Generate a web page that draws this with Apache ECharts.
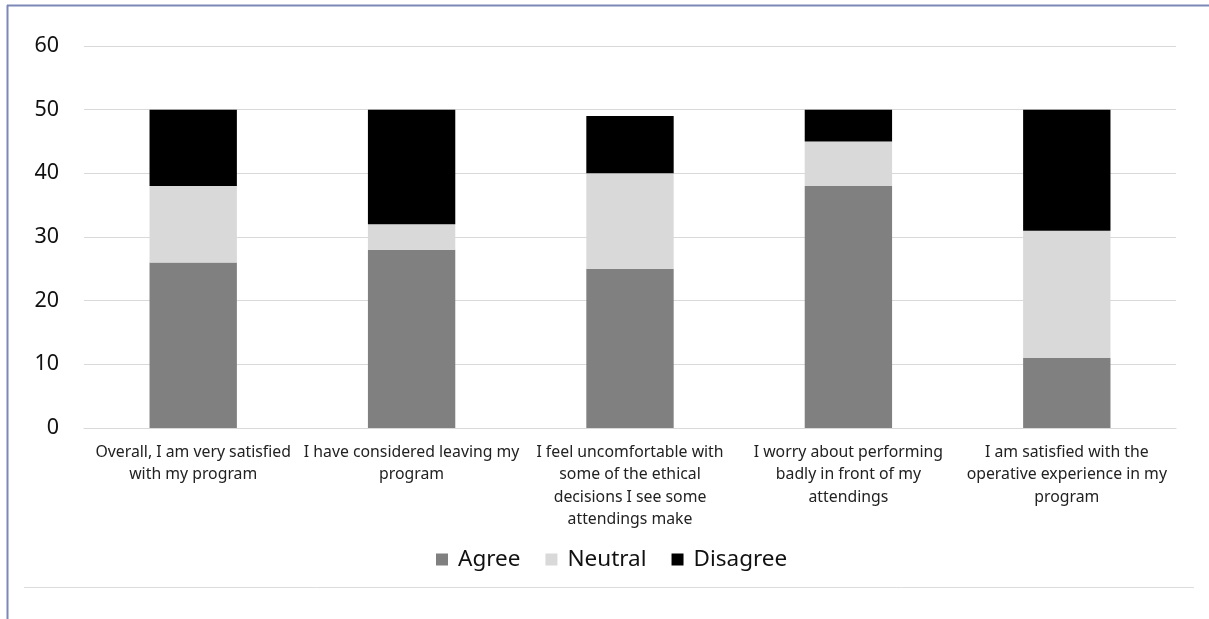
<!DOCTYPE html>
<html>
<head>
<meta charset="utf-8">
<script src="https://cdn.jsdelivr.net/npm/echarts@6/dist/echarts.min.js"></script>
<style>
  html, body { margin: 0; padding: 0; background: #fff; }
  #chart { width: 1209px; height: 619px; }
</style>
</head>
<body>
<div id="chart"></div>
<script>
// Survey statements (label line breaks included)
const categories = [
  'Overall, I am very satisfied\nwith my program',
  'I have considered leaving my\nprogram',
  'I feel uncomfortable with\nsome of the ethical\ndecisions I see some\nattendings make',
  'I worry about performing\nbadly in front of my\nattendings',
  'I am satisfied with the\noperative experience in my\nprogram'
];
const agree    = [26, 28, 25, 38, 11];
const neutral  = [12, 4, 15, 7, 20];
const disagree = [12, 18, 9, 5, 19];
const yTicks = { min: 0, max: 60, interval: 10 };

const font = 'Noto Sans';
const chart = echarts.init(document.getElementById('chart'));

function bar(name, data, color) {
  return {
    name: name,
    type: 'bar',
    stack: 'total',
    data: data,
    barWidth: '40%',
    itemStyle: { color: color },
    emphasis: { disabled: true }
  };
}

chart.setOption({
  animation: false,
  textStyle: { fontFamily: font },
  grid: { left: 84, right: 33, top: 46, bottom: 191, containLabel: false },
  xAxis: {
    type: 'category',
    data: categories,
    axisLine: { show: true, lineStyle: { color: '#d9d9d9', width: 1 } },
    axisTick: { show: false },
    axisLabel: {
      interval: 0,
      margin: 13,
      color: '#222',
      fontSize: 15.8,
      lineHeight: 22.5,
      fontFamily: font
    }
  },
  yAxis: {
    type: 'value',
    min: yTicks.min,
    max: yTicks.max,
    interval: yTicks.interval,
    axisLine: { show: false },
    axisTick: { show: false },
    splitLine: { lineStyle: { color: '#d9d9d9', width: 1 } },
    axisLabel: { color: '#111', fontSize: 21.5, margin: 25, fontFamily: font }
  },
  legend: {
    data: ['Agree', 'Neutral', 'Disagree'],
    left: 431,
    top: 543,
    icon: 'rect',
    itemWidth: 12,
    itemHeight: 12,
    itemGap: 25,
    textStyle: { fontSize: 22.5, color: '#111', fontFamily: font, padding: [0, 0, 0, 5] }
  },
  graphic: [
    { type: 'line', shape: { x1: 7, y1: 5.5, x2: 1209, y2: 5.5 }, style: { stroke: '#7c88b8', lineWidth: 2 }, silent: true },
    { type: 'line', shape: { x1: 7.5, y1: 5, x2: 7.5, y2: 619 }, style: { stroke: '#7c88b8', lineWidth: 2 }, silent: true },
    { type: 'line', shape: { x1: 24, y1: 587.5, x2: 1194, y2: 587.5 }, style: { stroke: '#dcdcdc', lineWidth: 1 }, silent: true }
  ],
  series: [
    bar('Agree', agree, '#808080'),
    bar('Neutral', neutral, '#d9d9d9'),
    bar('Disagree', disagree, '#000000')
  ]
});
</script>
</body>
</html>
